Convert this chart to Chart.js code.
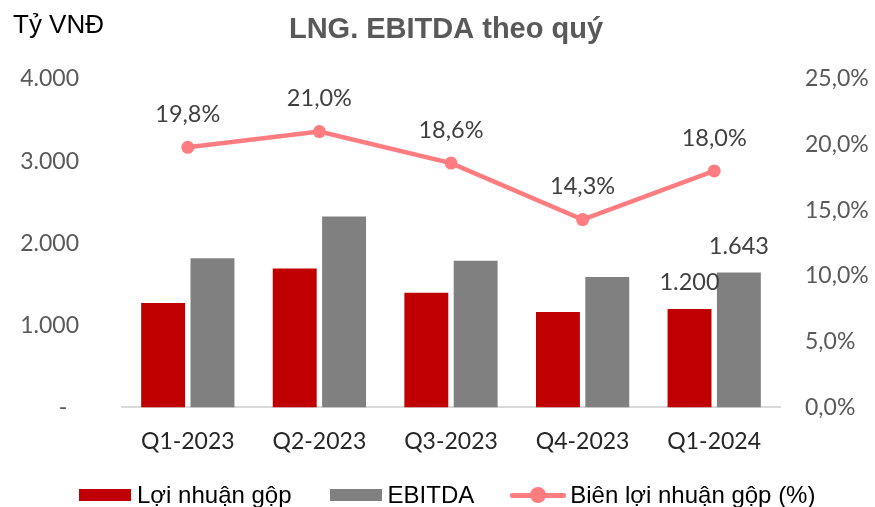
<!DOCTYPE html>
<html>
<head>
<meta charset="utf-8">
<script src="https://cdn.jsdelivr.net/npm/chart.js@4.4.1/dist/chart.umd.min.js"></script>
<style>
  html, body { margin: 0; padding: 0; background: #fff; }
  #wrap { position: relative; width: 875px; height: 507px; overflow: hidden; }
  #legend { position: absolute; left: 79px; top: 481px; height: 28px; display: flex; align-items: center;
            font-family: "Liberation Sans", Arial, sans-serif; font-size: 24px; color: #000; white-space: nowrap; }
  .item { display: flex; align-items: center; }
  .sw { width: 52px; height: 12px; margin-right: 6px; }
  .ln { position: relative; width: 56px; height: 18px; margin-right: 4px; }
  .ln .bar { position: absolute; left: 0; right: 0; top: 7px; height: 4.5px; border-radius: 2px; }
  .ln .dot { position: absolute; left: 20px; top: 1px; width: 16px; height: 16px; border-radius: 50%; }
</style>
</head>
<body>
<div id="wrap">
  <canvas id="c" width="875" height="507"></canvas>
  <div id="legend"></div>
</div>
<script>
const categories = ["Q1-2023", "Q2-2023", "Q3-2023", "Q4-2023", "Q1-2024"];
const grossProfit = [1271, 1691, 1397, 1161, 1200];
const ebitda = [1817, 2326, 1785, 1589, 1643];
const grossMargin = [19.8, 21.0, 18.6, 14.3, 18.0];
const leftTicks = [0, 1000, 2000, 3000, 4000];
const rightTicks = [0, 5, 10, 15, 20, 25];
const barLabelIndexes = [4];
const seriesNames = ["Lợi nhuận gộp", "EBITDA", "Biên lợi nhuận gộp (%)"];
const titleText = "LNG. EBITDA theo quý";
const unitText = "Tỷ VNĐ";

const RED = "#C00000", GRAY = "#808080", PINK = "#FF7C80";
const NUM_FONT = "Lato, 'Open Sans', sans-serif";

function fmtThousands(v) {
  return String(Math.round(v)).replace(/\B(?=(\d{3})+(?!\d))/g, ".");
}
function fmtPct(v) { return v.toFixed(1).replace(".", ",") + "%"; }

const textPlugin = {
  id: "texts",
  afterDatasetsDraw(chart) {
    const ctx = chart.ctx;
    ctx.save();
    // title
    ctx.font = "bold 29px 'Liberation Sans', Arial, sans-serif";
    ctx.fillStyle = "#595959";
    ctx.textAlign = "center";
    ctx.textBaseline = "alphabetic";
    ctx.fillText(titleText, 446, 38);
    // unit
    ctx.font = "26px 'Liberation Sans', Arial, sans-serif";
    ctx.fillStyle = "#000";
    ctx.textAlign = "left";
    ctx.fillText(unitText, 13, 33);
    // line labels
    ctx.font = "23.5px " + NUM_FONT;
    ctx.fillStyle = "#404040";
    ctx.textAlign = "center";
    ctx.textBaseline = "middle";
    const lineMeta = chart.getDatasetMeta(2);
    lineMeta.data.forEach((pt, i) => {
      ctx.fillText(fmtPct(grossMargin[i]), pt.x, pt.y - 33);
    });
    // bar labels
    [0, 1].forEach(di => {
      const meta = chart.getDatasetMeta(di);
      const vals = chart.data.datasets[di].data;
      barLabelIndexes.forEach(i => {
        const el = meta.data[i];
        ctx.fillText(fmtThousands(vals[i]), el.x, el.y - 26);
      });
    });
    ctx.restore();
  }
};

new Chart(document.getElementById("c"), {
  data: {
    labels: categories,
    datasets: [
      { type: "bar", label: seriesNames[0], data: grossProfit, backgroundColor: RED, yAxisID: "y",
        categoryPercentage: 0.75, barPercentage: 0.89, order: 2 },
      { type: "bar", label: seriesNames[1], data: ebitda, backgroundColor: GRAY, yAxisID: "y",
        categoryPercentage: 0.75, barPercentage: 0.89, order: 2 },
      { type: "line", label: seriesNames[2], data: grossMargin, borderColor: PINK, backgroundColor: PINK,
        borderWidth: 4.5, pointRadius: 6.5, pointBackgroundColor: PINK, pointBorderWidth: 0,
        tension: 0, yAxisID: "y1", order: 0 }
    ]
  },
  options: {
    responsive: false,
    animation: false,
    layout: { padding: { top: 79, bottom: 32, left: 0, right: 0 } },
    plugins: { legend: { display: false }, title: { display: false }, tooltip: { enabled: false } },
    scales: {
      x: {
        grid: { display: false, drawTicks: false },
        border: { display: true, color: "#D9D9D9", width: 2 },
        ticks: { font: { family: NUM_FONT, size: 23 }, color: "#262626", padding: 20 }
      },
      y: {
        position: "left",
        min: 0, max: 4000,
        afterBuildTicks(s) { s.ticks = leftTicks.map(v => ({ value: v })); },
        afterFit(s) { s.width = 122; },
        grid: { display: false, drawTicks: false },
        border: { display: false },
        ticks: {
          font: { family: NUM_FONT, size: 23 }, color: "#595959", padding: 43,
          callback: v => v === 0 ? "-  " : fmtThousands(v)
        }
      },
      y1: {
        position: "right",
        min: 0, max: 25,
        afterBuildTicks(s) { s.ticks = rightTicks.map(v => ({ value: v })); },
        afterFit(s) { s.width = 95; },
        grid: { display: false, drawTicks: false },
        border: { display: false },
        ticks: {
          font: { family: NUM_FONT, size: 23 }, color: "#595959", padding: 25,
          callback: v => fmtPct(v)
        }
      }
    }
  },
  plugins: [textPlugin]
});

// legend (HTML)
const legend = document.getElementById("legend");
const items = [
  { kind: "box", color: RED, text: seriesNames[0], gap: 38 },
  { kind: "box", color: GRAY, text: seriesNames[1], gap: 36 },
  { kind: "line", color: PINK, text: seriesNames[2], gap: 0 }
];
items.forEach(it => {
  const d = document.createElement("div");
  d.className = "item";
  d.style.marginRight = it.gap + "px";
  if (it.kind === "box") {
    const s = document.createElement("div");
    s.className = "sw"; s.style.background = it.color; d.appendChild(s);
  } else {
    const s = document.createElement("div");
    s.className = "ln";
    s.innerHTML = '<div class="bar" style="background:' + it.color + '"></div><div class="dot" style="background:' + it.color + '"></div>';
    d.appendChild(s);
  }
  const t = document.createElement("span");
  t.textContent = it.text;
  d.appendChild(t);
  legend.appendChild(d);
});
</script>
</body>
</html>
